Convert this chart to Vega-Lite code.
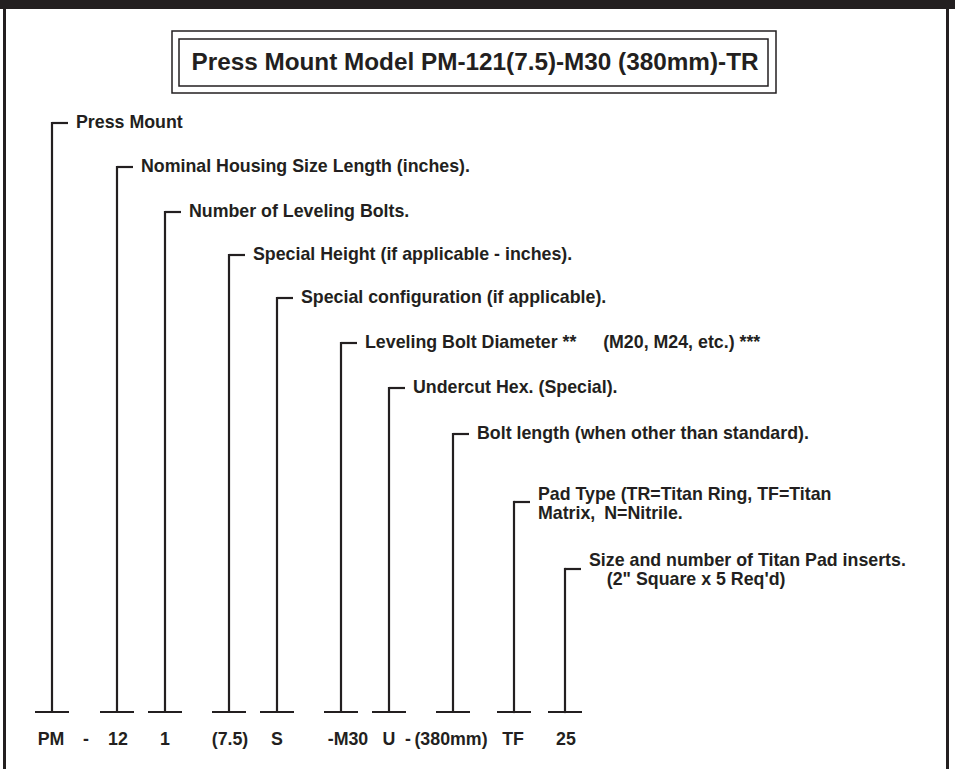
{
  "$schema": "https://vega.github.io/schema/vega-lite/v6.json",
  "width": 955,
  "height": 769,
  "padding": 0,
  "autosize": {"type": "fit", "contains": "padding"},
  "background": "white",
  "config": {"view": {"stroke": null}, "font": "Liberation Sans"},
  "datasets": {
    "parts": [
      {"code": "PM", "pos": 52, "level": 123, "ty": 123, "desc": "Press Mount"},
      {"code": "12", "pos": 117, "level": 167, "ty": 167, "desc": "Nominal Housing Size Length (inches)."},
      {"code": "1", "pos": 165, "level": 212, "ty": 212, "desc": "Number of Leveling Bolts."},
      {"code": "(7.5)", "pos": 229, "level": 255, "ty": 255, "desc": "Special Height (if applicable - inches)."},
      {"code": "S", "pos": 277, "level": 298, "ty": 298, "desc": "Special configuration (if applicable)."},
      {"code": "-M30", "pos": 341, "level": 343, "ty": 343, "desc": "Leveling Bolt Diameter **\u2003\u2002(M20, M24, etc.) ***"},
      {"code": "U", "pos": 389, "level": 388, "ty": 388, "desc": "Undercut Hex. (Special)."},
      {"code": "(380mm)", "pos": 453, "level": 434, "ty": 434, "desc": "Bolt length (when other than standard)."},
      {"code": "TF", "pos": 514, "level": 502, "ty": 495, "desc": "Pad Type (TR=Titan Ring, TF=Titan\nMatrix,\u2002N=Nitrile."},
      {"code": "25", "pos": 565, "level": 569, "ty": 561, "desc": "Size and number of Titan Pad inserts.\n\u200b\u2003(2\" Square x 5 Req'd)"}
    ],
    "codes": [
      {"text": "PM", "at": 51},
      {"text": "-", "at": 86},
      {"text": "12", "at": 118},
      {"text": "1", "at": 165},
      {"text": "(7.5)", "at": 230},
      {"text": "S", "at": 277},
      {"text": "-M30", "at": 348},
      {"text": "U", "at": 389},
      {"text": "-", "at": 408},
      {"text": "(380mm)", "at": 451},
      {"text": "TF", "at": 513},
      {"text": "25", "at": 566}
    ]
  },
  "layer": [
    {
      "data": {"values": [{}]},
      "mark": {"type": "rect", "color": "#231f20"},
      "encoding": {
        "x": {"datum": 0, "type": "quantitative", "scale": {"domain": [0, 955], "nice": false, "zero": false}, "axis": null},
        "x2": {"datum": 955},
        "y": {"datum": 0, "type": "quantitative", "scale": {"domain": [0, 769], "reverse": true, "nice": false, "zero": false}, "axis": null},
        "y2": {"datum": 9}
      }
    },
    {
      "data": {"values": [{}]},
      "mark": {"type": "rect", "color": "#231f20"},
      "encoding": {
        "x": {"datum": 3, "type": "quantitative"},
        "x2": {"datum": 6},
        "y": {"datum": 0, "type": "quantitative"},
        "y2": {"datum": 769}
      }
    },
    {
      "data": {"values": [{}]},
      "mark": {"type": "rect", "color": "#231f20"},
      "encoding": {
        "x": {"datum": 946, "type": "quantitative"},
        "x2": {"datum": 949},
        "y": {"datum": 0, "type": "quantitative"},
        "y2": {"datum": 769}
      }
    },
    {
      "data": {"values": [{}]},
      "mark": {"type": "rect", "fill": null, "filled": false, "stroke": "#231f20", "strokeWidth": 1.5},
      "encoding": {
        "x": {"datum": 172, "type": "quantitative"},
        "x2": {"datum": 776},
        "y": {"datum": 31, "type": "quantitative"},
        "y2": {"datum": 93}
      }
    },
    {
      "data": {"values": [{}]},
      "mark": {"type": "rect", "fill": null, "filled": false, "stroke": "#231f20", "strokeWidth": 1.5},
      "encoding": {
        "x": {"datum": 179, "type": "quantitative"},
        "x2": {"datum": 768},
        "y": {"datum": 39, "type": "quantitative"},
        "y2": {"datum": 86}
      }
    },
    {
      "data": {"values": [{"title": "Press Mount Model PM-121(7.5)-M30 (380mm)-TR"}]},
      "mark": {"type": "text", "fontSize": 24.3, "fontWeight": "bold", "color": "#231f20", "align": "center", "baseline": "middle"},
      "encoding": {
        "x": {"datum": 475, "type": "quantitative"},
        "y": {"datum": 63, "type": "quantitative"},
        "text": {"field": "title"}
      }
    },
    {
      "data": {"name": "parts"},
      "mark": {"type": "rule", "color": "#231f20", "strokeWidth": 2.2, "strokeCap": "square"},
      "encoding": {
        "x": {"field": "pos", "type": "quantitative"},
        "y": {"field": "level", "type": "quantitative"},
        "y2": {"datum": 712}
      }
    },
    {
      "data": {"name": "parts"},
      "mark": {"type": "tick", "orient": "horizontal", "color": "#231f20", "size": 16, "thickness": 2.2, "xOffset": 8, "opacity": 1},
      "encoding": {
        "x": {"field": "pos", "type": "quantitative"},
        "y": {"field": "level", "type": "quantitative"}
      }
    },
    {
      "data": {"name": "parts"},
      "mark": {"type": "tick", "orient": "horizontal", "color": "#231f20", "size": 34, "thickness": 2.2, "opacity": 1},
      "encoding": {
        "x": {"field": "pos", "type": "quantitative"},
        "y": {"datum": 712, "type": "quantitative"}
      }
    },
    {
      "data": {"name": "parts"},
      "mark": {"type": "text", "fontSize": 17.8, "fontWeight": "bold", "color": "#231f20", "align": "left", "baseline": "middle", "dx": 24, "lineBreak": "\n", "lineHeight": 19},
      "encoding": {
        "x": {"field": "pos", "type": "quantitative"},
        "y": {"field": "ty", "type": "quantitative"},
        "text": {"field": "desc"}
      }
    },
    {
      "data": {"name": "codes"},
      "mark": {"type": "text", "fontSize": 17.8, "fontWeight": "bold", "color": "#231f20", "align": "center", "baseline": "middle"},
      "encoding": {
        "x": {"field": "at", "type": "quantitative"},
        "y": {"datum": 740, "type": "quantitative"},
        "text": {"field": "text"}
      }
    }
  ]
}
